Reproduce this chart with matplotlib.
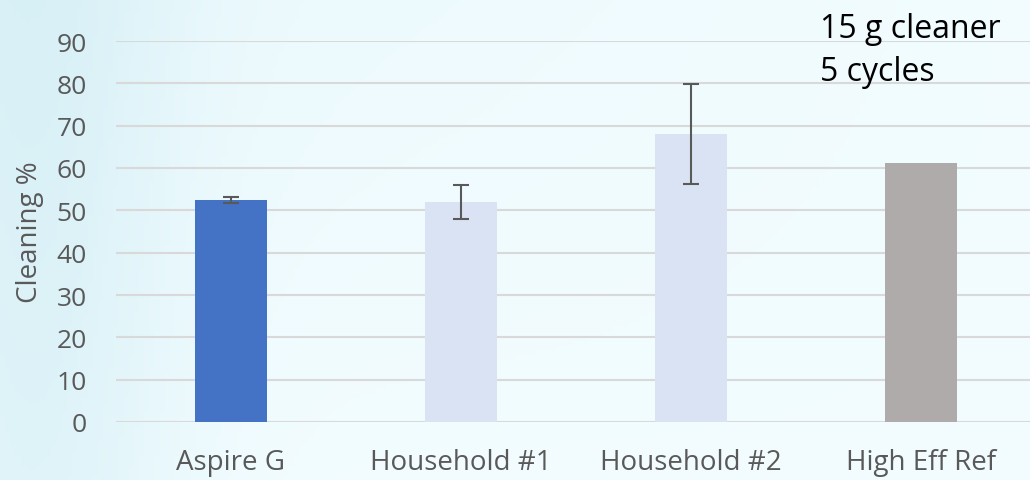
import numpy as np
import matplotlib
matplotlib.use("Agg")
import matplotlib.pyplot as plt

# data
categories = ["Aspire G", "Household #1", "Household #2", "High Eff Ref"]
cleaning = [52.4, 52.0, 68.0, 61.2]
errors = [0.7, 4.0, 11.8, 0.0]
bar_colors = ["#4472C4", "#DAE3F3", "#DAE3F3", "#AFABAB"]
yticks = [0, 10, 20, 30, 40, 50, 60, 70, 80, 90]

plt.rcParams['font.family'] = ['Open Sans', 'DejaVu Sans']

fig = plt.figure(figsize=(10.30, 4.81), dpi=100)

# pale blue background, a bit darker towards the left
bg = fig.add_axes([0, 0, 1, 1])
gx = np.linspace(0, 1, 200)
gy = np.linspace(0, 1, 100)
X, Y = np.meshgrid(gx, gy)
shade = 0.5 * np.exp(-((X - 0.03) ** 2) / 0.02) + 0.2 * (1 - Y) * (1 - X)
c0 = np.array([0.95, 0.99, 1.0])
c1 = np.array([0.80, 0.92, 0.95])
img = c0[None, None, :] * (1 - shade[..., None]) + c1[None, None, :] * shade[..., None]
bg.imshow(img, aspect='auto', extent=[0, 1, 0, 1], zorder=0)
bg.axis('off')

ax = fig.add_axes([116 / 1030, 1 - 423 / 481, 920 / 1030, (423 - 42) / 481])
ax.patch.set_alpha(0)

x = np.arange(len(categories))
ax.bar(x, cleaning, width=0.315, color=bar_colors, zorder=3)
for xi, v, e in zip(x, cleaning, errors):
    if e > 0:
        ax.errorbar(xi, v, yerr=e, fmt='none', ecolor='#595959',
                    elinewidth=1.5, capsize=6, capthick=1.5, zorder=4)

ax.set_xlim(-0.5, 3.5)
ax.set_ylim(0, 90)
ax.set_yticks(yticks)
ax.yaxis.grid(True, color='#D9D9D9', linewidth=1.5, zorder=1)
ax.set_axisbelow(True)
for s in ['top', 'right', 'left', 'bottom']:
    ax.spines[s].set_visible(False)
ax.tick_params(length=0, labelcolor='#595959')
ax.tick_params(axis='y', labelsize=19, pad=21)
ax.tick_params(axis='x', labelsize=20, pad=19)
ax.set_xticks(x)
ax.set_xticklabels(categories)
ax.set_ylabel('Cleaning %', fontsize=20, color='#595959')
ax.yaxis.set_label_coords(-0.078, 0.5)

fig.text(820 / 1030, 1 - 38 / 481, '15 g cleaner', fontsize=23, color='black')
fig.text(820 / 1030, 1 - 81 / 481, '5 cycles', fontsize=23, color='black')

fig.savefig('out.png', dpi=100)
